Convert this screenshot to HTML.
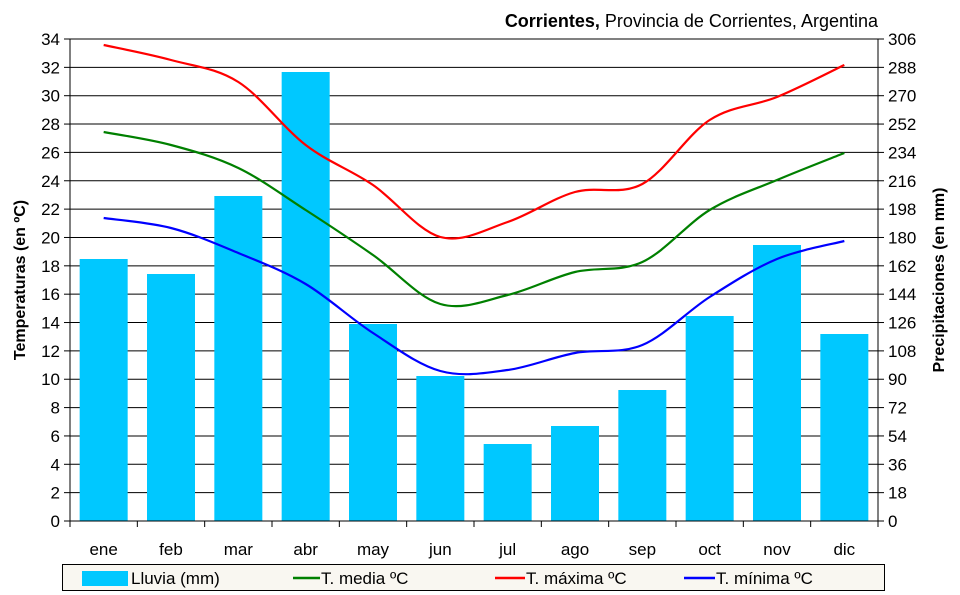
<!DOCTYPE html>
<html><head><meta charset="utf-8"><style>
body{margin:0;background:#fff;}
svg{display:block;font-family:"Liberation Sans",sans-serif;}
</style></head><body>
<svg id="s" width="960" height="595" xmlns="http://www.w3.org/2000/svg">
<rect width="960" height="595" fill="#fff"/>
<g id="grid"></g>
<g id="bars"></g>
<g id="lines"></g>
<g id="axes" stroke="#000" stroke-width="1"></g>
<g id="labels" font-size="17" fill="#000"></g>
<text x="878" y="27" font-size="18" text-anchor="end"><tspan font-weight="bold">Corrientes,</tspan> Provincia de Corrientes, Argentina</text>
<text transform="translate(25,280) rotate(-90)" font-size="16" font-weight="bold" text-anchor="middle">Temperaturas (en ºC)</text>
<text transform="translate(944,280) rotate(-90)" font-size="16" font-weight="bold" text-anchor="middle">Precipitaciones (en mm)</text>
<rect x="62.5" y="564.5" width="822" height="26" fill="#f9f7f1" stroke="#000"/>
<rect x="82" y="571" width="46" height="15" fill="#00c8ff"/>
<text x="131" y="584" font-size="17">Lluvia (mm)</text>
<line x1="293" y1="578" x2="320" y2="578" stroke="#008000" stroke-width="2.5"/>
<text x="321" y="584" font-size="17">T. media ºC</text>
<line x1="495" y1="578" x2="525" y2="578" stroke="#ff0000" stroke-width="2.5"/>
<text x="526" y="584" font-size="17">T. máxima ºC</text>
<line x1="684" y1="578" x2="715" y2="578" stroke="#0000ff" stroke-width="2.5"/>
<text x="716" y="584" font-size="17">T. mínima ºC</text>
</svg>
<script>
var L=70,R=878,T=39,B=521,ns="http://www.w3.org/2000/svg";
function el(p,t,a,txt){var e=document.createElementNS(ns,t);for(var k in a)e.setAttribute(k,a[k]);if(txt!=null)e.textContent=txt;document.getElementById(p).appendChild(e);return e;}
var step=(B-T)/17;
for(var i=0;i<=17;i++){var y=B-i*step;
 el("grid","line",{x1:L,x2:R,y1:y,y2:y,stroke:"#000","stroke-width":1});
 el("axes","line",{x1:L-6,x2:L,y1:y,y2:y});el("axes","line",{x1:R,x2:R+6,y1:y,y2:y});
 el("labels","text",{x:L-10,y:y+6,"text-anchor":"end"},String(i*2));
 el("labels","text",{x:R+10,y:y+6},String(i*18));}
el("axes","line",{x1:L,x2:L,y1:T,y2:B});el("axes","line",{x1:R,x2:R,y1:T,y2:B});
var w=(R-L)/12,m=["ene","feb","mar","abr","may","jun","jul","ago","sep","oct","nov","dic"];
var bt=[259,274,196,72,324,376,444,426,390,316,245,334];
for(var i=0;i<12;i++){var c=L+w*(i+.5);
 el("bars","rect",{x:c-24,y:bt[i],width:48,height:B-bt[i],fill:"#00c8ff"});
 el("axes","line",{x1:L+w*i,x2:L+w*i,y1:B,y2:B+6});
 el("labels","text",{x:c,y:555,"text-anchor":"middle"},m[i]);}
el("axes","line",{x1:R,x2:R,y1:B,y2:B+6});
el("axes","line",{x1:L,x2:R,y1:B,y2:B});
function path(ys,col){var p=ys.map(function(y,i){return[L+w*(i+.5),y]});var d="M"+p[0][0]+","+p[0][1];
 for(var i=0;i<p.length-1;i++){var p0=p[i-1]||p[i],p1=p[i],p2=p[i+1],p3=p[i+2]||p[i+1];
 d+=" C"+(p1[0]+(p2[0]-p0[0])/6)+","+(p1[1]+(p2[1]-p0[1])/6)+" "+(p2[0]-(p3[0]-p1[0])/6)+","+(p2[1]-(p3[1]-p1[1])/6)+" "+p2[0]+","+p2[1];}
 el("lines","path",{d:d,fill:"none",stroke:col,"stroke-width":2.2});}
path([45,60,82,145,185,237,222,192,184,120,97,65],"#ff0000");
path([132,145,168,210,255,304,295,272,262,210,180,153],"#008000");
path([218,228,253,284,333,371,370,353,345,297,259,241],"#0000ff");
</script>
</body></html>
